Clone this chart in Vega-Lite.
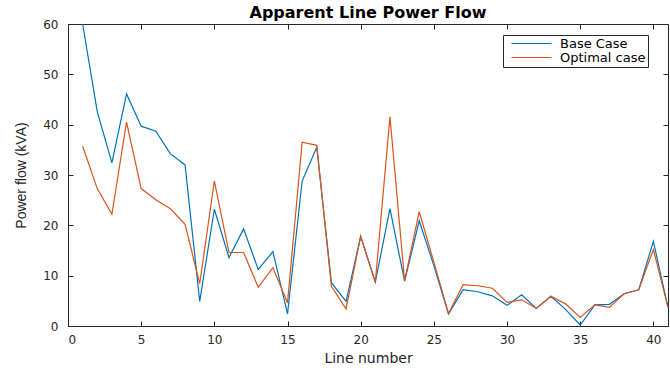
{
  "$schema": "https://vega.github.io/schema/vega-lite/v6.json",
  "width": 600,
  "height": 302,
  "autosize": {"type": "none"},
  "padding": {"left": 68, "top": 24, "right": 2, "bottom": 44},
  "background": "white",
  "title": {"text": "Apparent Line Power Flow", "font": "DejaVu Sans", "fontSize": 16, "fontWeight": "bold", "color": "#000000", "offset": -3},
  "config": {
    "view": {"stroke": "#262626", "strokeWidth": 1},
    "axis": {
      "grid": false,
      "domainColor": "#262626",
      "tickColor": "#262626",
      "tickSize": -5,
      "labelFont": "DejaVu Sans",
      "labelFontSize": 12,
      "labelColor": "#262626",
      "titleFont": "DejaVu Sans",
      "titleFontSize": 13,
      "titleFontWeight": "normal",
      "titleColor": "#262626"
    }
  },
  "data": {"values": [
    {"line": 1, "case": "Base Case", "flow": 60.0},
    {"line": 2, "case": "Base Case", "flow": 42.6},
    {"line": 3, "case": "Base Case", "flow": 32.4},
    {"line": 4, "case": "Base Case", "flow": 46.1},
    {"line": 5, "case": "Base Case", "flow": 39.7},
    {"line": 6, "case": "Base Case", "flow": 38.7},
    {"line": 7, "case": "Base Case", "flow": 34.2},
    {"line": 8, "case": "Base Case", "flow": 32.0},
    {"line": 9, "case": "Base Case", "flow": 4.9},
    {"line": 10, "case": "Base Case", "flow": 23.2},
    {"line": 11, "case": "Base Case", "flow": 13.6},
    {"line": 12, "case": "Base Case", "flow": 19.3},
    {"line": 13, "case": "Base Case", "flow": 11.2},
    {"line": 14, "case": "Base Case", "flow": 14.8},
    {"line": 15, "case": "Base Case", "flow": 2.4},
    {"line": 16, "case": "Base Case", "flow": 28.8},
    {"line": 17, "case": "Base Case", "flow": 35.5},
    {"line": 18, "case": "Base Case", "flow": 8.6},
    {"line": 19, "case": "Base Case", "flow": 4.9},
    {"line": 20, "case": "Base Case", "flow": 17.8},
    {"line": 21, "case": "Base Case", "flow": 8.7},
    {"line": 22, "case": "Base Case", "flow": 23.3},
    {"line": 23, "case": "Base Case", "flow": 8.9},
    {"line": 24, "case": "Base Case", "flow": 20.9},
    {"line": 25, "case": "Base Case", "flow": 12.0},
    {"line": 26, "case": "Base Case", "flow": 2.4},
    {"line": 27, "case": "Base Case", "flow": 7.2},
    {"line": 28, "case": "Base Case", "flow": 6.8},
    {"line": 29, "case": "Base Case", "flow": 6.0},
    {"line": 30, "case": "Base Case", "flow": 4.1},
    {"line": 31, "case": "Base Case", "flow": 6.2},
    {"line": 32, "case": "Base Case", "flow": 3.5},
    {"line": 33, "case": "Base Case", "flow": 5.9},
    {"line": 34, "case": "Base Case", "flow": 3.3},
    {"line": 35, "case": "Base Case", "flow": 0.2},
    {"line": 36, "case": "Base Case", "flow": 4.2},
    {"line": 37, "case": "Base Case", "flow": 4.3},
    {"line": 38, "case": "Base Case", "flow": 6.4},
    {"line": 39, "case": "Base Case", "flow": 7.2},
    {"line": 40, "case": "Base Case", "flow": 16.8},
    {"line": 41, "case": "Base Case", "flow": 3.7},
    {"line": 1, "case": "Optimal case", "flow": 35.7},
    {"line": 2, "case": "Optimal case", "flow": 27.3},
    {"line": 3, "case": "Optimal case", "flow": 22.2},
    {"line": 4, "case": "Optimal case", "flow": 40.5},
    {"line": 5, "case": "Optimal case", "flow": 27.3},
    {"line": 6, "case": "Optimal case", "flow": 25.1},
    {"line": 7, "case": "Optimal case", "flow": 23.3},
    {"line": 8, "case": "Optimal case", "flow": 20.2},
    {"line": 9, "case": "Optimal case", "flow": 8.4},
    {"line": 10, "case": "Optimal case", "flow": 28.8},
    {"line": 11, "case": "Optimal case", "flow": 14.6},
    {"line": 12, "case": "Optimal case", "flow": 14.6},
    {"line": 13, "case": "Optimal case", "flow": 7.7},
    {"line": 14, "case": "Optimal case", "flow": 11.6},
    {"line": 15, "case": "Optimal case", "flow": 4.6},
    {"line": 16, "case": "Optimal case", "flow": 36.5},
    {"line": 17, "case": "Optimal case", "flow": 35.9},
    {"line": 18, "case": "Optimal case", "flow": 7.9},
    {"line": 19, "case": "Optimal case", "flow": 3.4},
    {"line": 20, "case": "Optimal case", "flow": 17.8},
    {"line": 21, "case": "Optimal case", "flow": 8.7},
    {"line": 22, "case": "Optimal case", "flow": 41.6},
    {"line": 23, "case": "Optimal case", "flow": 9.0},
    {"line": 24, "case": "Optimal case", "flow": 22.7},
    {"line": 25, "case": "Optimal case", "flow": 12.7},
    {"line": 26, "case": "Optimal case", "flow": 2.5},
    {"line": 27, "case": "Optimal case", "flow": 8.2},
    {"line": 28, "case": "Optimal case", "flow": 8.0},
    {"line": 29, "case": "Optimal case", "flow": 7.5},
    {"line": 30, "case": "Optimal case", "flow": 4.7},
    {"line": 31, "case": "Optimal case", "flow": 5.2},
    {"line": 32, "case": "Optimal case", "flow": 3.5},
    {"line": 33, "case": "Optimal case", "flow": 5.9},
    {"line": 34, "case": "Optimal case", "flow": 4.4},
    {"line": 35, "case": "Optimal case", "flow": 1.7},
    {"line": 36, "case": "Optimal case", "flow": 4.2},
    {"line": 37, "case": "Optimal case", "flow": 3.7},
    {"line": 38, "case": "Optimal case", "flow": 6.4},
    {"line": 39, "case": "Optimal case", "flow": 7.2},
    {"line": 40, "case": "Optimal case", "flow": 15.2},
    {"line": 41, "case": "Optimal case", "flow": 3.7}
  ]},
  "layer": [
    {
      "mark": {"type": "line", "opacity": 0},
      "encoding": {
        "x": {"field": "line", "type": "quantitative", "scale": {"domain": [0, 41], "nice": false},
              "axis": {"orient": "top", "labels": false, "title": null, "domain": false, "values": [0, 5, 10, 15, 20, 25, 30, 35, 40]}},
        "y": {"field": "flow", "type": "quantitative", "scale": {"domain": [0, 60], "nice": false},
              "axis": {"orient": "right", "labels": false, "title": null, "domain": false, "values": [0, 10, 20, 30, 40, 50, 60]}},
        "detail": {"field": "case"}
      }
    },
    {
      "mark": {"type": "line", "strokeWidth": 1.2},
      "encoding": {
        "x": {"field": "line", "type": "quantitative", "scale": {"domain": [0, 41], "nice": false},
              "axis": {"orient": "bottom", "title": "Line number", "titleFontSize": 14, "values": [0, 5, 10, 15, 20, 25, 30, 35, 40], "labelPadding": 13, "titlePadding": 6}},
        "y": {"field": "flow", "type": "quantitative", "scale": {"domain": [0, 60], "nice": false},
              "axis": {"orient": "left", "title": "Power flow (kVA)", "values": [0, 10, 20, 30, 40, 50, 60], "labelPadding": 15, "titleFont": "Liberation Sans", "titleFontSize": 14, "titlePadding": 14}},
        "color": {"field": "case", "type": "nominal",
                  "scale": {"domain": ["Base Case", "Optimal case"], "range": ["#0072BD", "#D95319"]},
                  "legend": {"orient": "none", "legendX": 435, "legendY": 11, "title": null, "symbolType": "M-10,0H10", "symbolSize": 16, "symbolOffset": 20, "symbolStrokeWidth": 1.2, "symbolFillColor": "transparent", "labelFont": "DejaVu Sans", "labelFontSize": 13, "labelColor": "#000000", "strokeColor": "#262626", "fillColor": "white", "padding": 2, "rowPadding": -2, "labelOffset": 22}}
      }
    }
  ],
  "resolve": {"axis": {"x": "independent", "y": "independent"}}
}
